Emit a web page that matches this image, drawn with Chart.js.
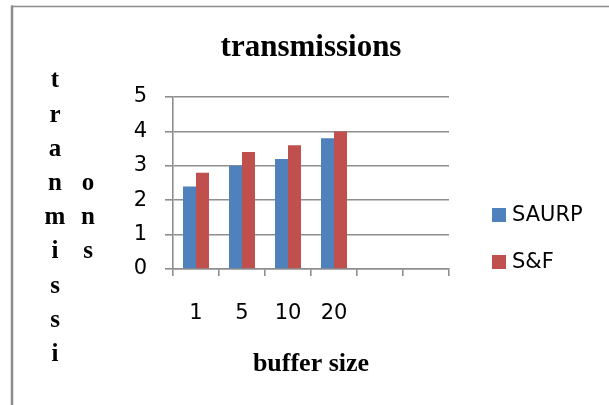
<!DOCTYPE html>
<html>
<head>
<meta charset="utf-8">
<title>transmissions</title>
<script src="https://cdn.jsdelivr.net/npm/chart.js@4/dist/chart.umd.min.js"></script>
<style>
  html, body { margin: 0; padding: 0; background: #ffffff; overflow: hidden; }
  canvas { display: block; }
</style>
</head>
<body>
<canvas id="chart" width="609" height="405"></canvas>
<script>
// Buffer sizes on the x axis (two trailing empty slots keep the axis width)
const categories = ['1', '5', '10', '20', '', ''];
const saurpValues = [2.4, 3.0, 3.2, 3.8, null, null];
const sfValues = [2.8, 3.4, 3.6, 4.0, null, null];
const seriesNames = ['SAURP', 'S&F'];
const yTicks = [0, 1, 2, 3, 4, 5];
const chartTitle = 'transmissions';
const xTitle = 'buffer size';
// Stacked letters of the vertical axis title, column by column
const yTitleColumns = [['t', 'r', 'a', 'n', 'm', 'i', 's', 's', 'i'], ['o', 'n', 's']];
const yTitleColumnStartRow = [0, 3];

const BLUE = '#4f81bd';
const RED = '#c0504d';
const GRID = '#8e8e8e';
const TICK_FONT = { family: 'DejaVu Sans', size: 21 };
const SERIF_BOLD = 'bold 25px "Liberation Serif", "Times New Roman", serif';

// Frame, stacked y-axis title and right-hand legend
const decorations = {
  id: 'decorations',
  beforeDraw(chart) {
    const ctx = chart.ctx;
    ctx.save();
    ctx.fillStyle = '#ffffff';
    ctx.fillRect(0, 0, chart.width, chart.height);
    ctx.strokeStyle = '#8c8c8c';
    ctx.lineWidth = 2.5;
    ctx.beginPath();
    ctx.moveTo(12, 5.5);
    ctx.lineTo(12, chart.height + 2);
    ctx.stroke();
    ctx.lineWidth = 1.6;
    ctx.beginPath();
    ctx.moveTo(11, 6.5);
    ctx.lineTo(chart.width + 2, 6.5);
    ctx.stroke();
    ctx.restore();
  },
  afterDraw(chart) {
    const ctx = chart.ctx;
    ctx.save();
    // vertical axis title
    ctx.font = SERIF_BOLD;
    ctx.fillStyle = '#000000';
    ctx.textAlign = 'center';
    ctx.textBaseline = 'middle';
    const colX = [55, 88];
    const rowY0 = 81, rowStep = 34.2;
    yTitleColumns.forEach((letters, c) => {
      letters.forEach((ch, i) => {
        ctx.fillText(ch, colX[c], rowY0 + (yTitleColumnStartRow[c] + i) * rowStep);
      });
    });
    // legend
    ctx.font = '21px "DejaVu Sans", sans-serif';
    ctx.textAlign = 'left';
    chart.data.datasets.forEach((ds, i) => {
      const cy = 215 + i * 47;
      ctx.fillStyle = ds.backgroundColor;
      ctx.fillRect(492, cy - 7, 14, 14);
      ctx.fillStyle = '#000000';
      ctx.fillText(ds.label, 512, cy + 1);
    });
    ctx.restore();
  }
};

new Chart(document.getElementById('chart'), {
  type: 'bar',
  data: {
    labels: categories,
    datasets: [
      { label: seriesNames[0], data: saurpValues, backgroundColor: BLUE, borderWidth: 0 },
      { label: seriesNames[1], data: sfValues, backgroundColor: RED, borderWidth: 0 }
    ]
  },
  options: {
    responsive: false,
    animation: false,
    devicePixelRatio: 1,
    layout: { padding: { left: 100, right: 160, top: 0, bottom: 0 } },
    datasets: { bar: { categoryPercentage: 0.565, barPercentage: 1.0 } },
    plugins: {
      legend: { display: false },
      tooltip: { enabled: false },
      title: {
        display: true,
        text: chartTitle,
        fullSize: false,
        color: '#000000',
        font: { family: '"Liberation Serif", "Times New Roman", serif', weight: 'bold', size: 31, lineHeight: 1.2 },
        padding: { top: 29, bottom: 30.8 }
      }
    },
    scales: {
      x: {
        offset: true,
        grid: { display: true, drawOnChartArea: false, drawTicks: true, tickLength: 7, color: GRID, lineWidth: 1.6, offset: true },
        border: { display: true, color: GRID, width: 1.6 },
        ticks: { color: '#000000', font: TICK_FONT, padding: 25, maxRotation: 0, autoSkip: false },
        title: {
          display: true,
          text: xTitle,
          color: '#000000',
          font: { family: '"Liberation Serif", "Times New Roman", serif', weight: 'bold', size: 26, lineHeight: 1.2 },
          padding: { top: 0, bottom: 25 }
        },
        afterFit(scale) { scale.height = 136; }
      },
      y: {
        min: 0,
        max: 5,
        afterBuildTicks(scale) { scale.ticks = yTicks.map(v => ({ value: v })); },
        grid: { color: GRID, lineWidth: 1.6, tickLength: 8, drawTicks: true },
        border: { display: true, color: GRID, width: 1.6 },
        ticks: { color: '#000000', font: TICK_FONT, padding: 18 },
        afterFit(scale) { scale.width = 73; }
      }
    }
  },
  plugins: [decorations]
});
</script>
</body>
</html>
